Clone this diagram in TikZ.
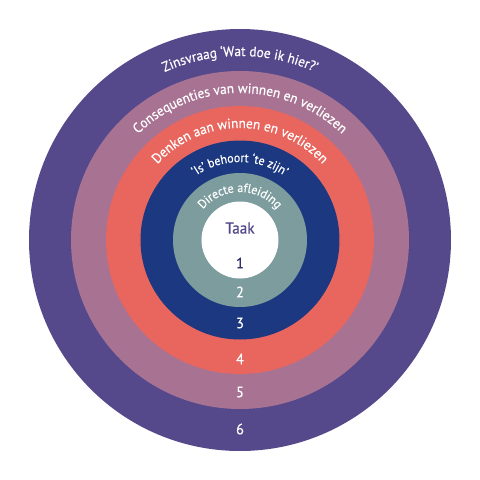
\documentclass[tikz,border=0pt]{standalone}
\usepackage{fontspec}
\setmainfont[FakeStretch=0.95,FakeBold=0.4]{PT Sans}
\usetikzlibrary{decorations.text}
\definecolor{ringsix}{HTML}{55498C}
\definecolor{ringfive}{HTML}{A87393}
\definecolor{ringfour}{HTML}{E8665E}
\definecolor{ringthree}{HTML}{1C3880}
\definecolor{ringtwo}{HTML}{7C9C9E}
\definecolor{darkone}{HTML}{2E2F6A}
\begin{document}
\begin{tikzpicture}[x=1pt,y=1pt,
  ring/.style={circle, draw=none, inner sep=0pt},
  arctext/.style={decorate, decoration={text along path, text align=center, text color=white,
     text={|\fontsize{14}{16}\selectfont|#1}}},
  smallarctext/.style={decorate, decoration={text along path, text align=center, text color=white,
     text={|\fontsize{12.5}{14}\selectfont|#1}}},
  numlbl/.style={text=white, font=\fontsize{15}{17}\selectfont, inner sep=0pt}]
\fill[white] (-240,-240) rectangle (240,240);
\useasboundingbox (-240,-240) rectangle (240,240);
\node[ring, fill=ringsix, minimum size=422pt] (r6) at (0,0) {};
\node[ring, fill=ringfive, minimum size=338pt] (r5) at (0,0) {};
\node[ring, fill=ringfour, minimum size=268pt] (r4) at (0,0) {};
\node[ring, fill=ringthree, minimum size=199pt] (r3) at (0,0) {};
\node[ring, fill=ringtwo, minimum size=134pt] (r2) at (0,0) {};
\node[ring, fill=white, minimum size=77pt] (r1) at (0,0) {};
\path[arctext={Zinsvraag ‘Wat doe ik hier?’}] (r1.center) ++(180:184pt) arc[start angle=180, end angle=0, radius=184pt];
\path[arctext={Consequenties van winnen en verliezen}] (r1.center) ++(180:147pt) arc[start angle=180, end angle=0, radius=147pt];
\path[arctext={Denken aan winnen en verliezen}] (r1.center) ++(180:112pt) arc[start angle=180, end angle=0, radius=112pt];
\path[smallarctext={‘Is’ behoort ‘te zijn’}] (r1.center) ++(180:78pt) arc[start angle=180, end angle=0, radius=78pt];
\path[smallarctext={Directe afleiding}] (r1.center) ++(180:48pt) arc[start angle=180, end angle=0, radius=48pt];
\node[numlbl, text=ringsix, font=\fontsize{16}{18}\selectfont] (taak) at (0,12) {Taak};
\node[numlbl, text=darkone] (n1) at (0,-23) {1};
\node[numlbl] (n2) at (0,-52) {2};
\node[numlbl] (n3) at (0,-83) {3};
\node[numlbl] (n4) at (0,-119) {4};
\node[numlbl] (n5) at (0,-152) {5};
\node[numlbl] (n6) at (0,-189) {6};
\end{tikzpicture}
\end{document}
